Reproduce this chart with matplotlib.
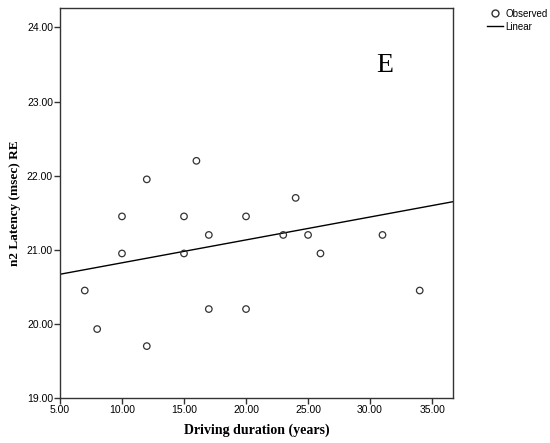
import matplotlib
matplotlib.use('Agg')
import matplotlib.pyplot as plt
from matplotlib.lines import Line2D
import numpy as np

duration = [7, 8, 10, 10, 12, 12, 15, 15, 16, 17, 17, 20, 20, 23, 24, 25, 26, 31, 34]
latency = [20.45, 19.93, 21.45, 20.95, 21.95, 19.70, 21.45, 20.95, 22.20, 21.20,
           20.20, 21.45, 20.20, 21.20, 21.70, 21.20, 20.95, 21.20, 20.45]
xticks = [5, 10, 15, 20, 25, 30, 35]
yticks = [19, 20, 21, 22, 23, 24]

# linear fit as drawn in the chart
fit_intercept = 20.515
fit_slope = 0.0309

fig = plt.figure(figsize=(5.5, 4.43), dpi=100)
ax = fig.add_axes([0.109, 0.1016, 0.715, 0.88])

ax.scatter(duration, latency, s=22, facecolors='none', edgecolors='#333333',
           linewidths=0.9, zorder=3)

xs = np.array([5, 36.7])
ax.plot(xs, fit_intercept + fit_slope * xs, color='black', lw=1.0)

ax.set_xlim(5, 36.7)
ax.set_ylim(19, 24.26)
ax.set_xticks(xticks)
ax.set_yticks(yticks)
ax.set_xticklabels(['%.2f' % v for v in xticks], fontsize=7.5, family='Liberation Sans')
ax.set_yticklabels(['%.2f' % v for v in yticks], fontsize=7.5, family='Liberation Sans')
ax.tick_params(direction='out', length=4, width=1, color='#333333', pad=1)
for sp in ax.spines.values():
    sp.set_color('#333333')
    sp.set_linewidth(1)

ax.set_xlabel('Driving duration (years)', fontsize=10, family='Liberation Serif',
              fontweight='bold', labelpad=6)
ax.set_ylabel('n2 Latency (msec) RE', fontsize=9.5, family='Liberation Serif',
              fontweight='bold', labelpad=4)

ax.text(31.2, 23.49, 'E', fontsize=20, family='Liberation Serif', ha='center', va='center')

handles = [Line2D([], [], ls='none', marker='o', mfc='none', mec='#333333', ms=5),
           Line2D([], [], color='black', lw=1)]
fig.legend(handles, ['Observed', 'Linear'], loc='upper left', bbox_to_anchor=(0.87, 1.0),
           frameon=False, handlelength=1.6, handletextpad=0.3,
           labelspacing=0.3, prop={'family': 'Liberation Sans', 'size': 7})

fig.savefig('out.png', dpi=100, facecolor='white')
